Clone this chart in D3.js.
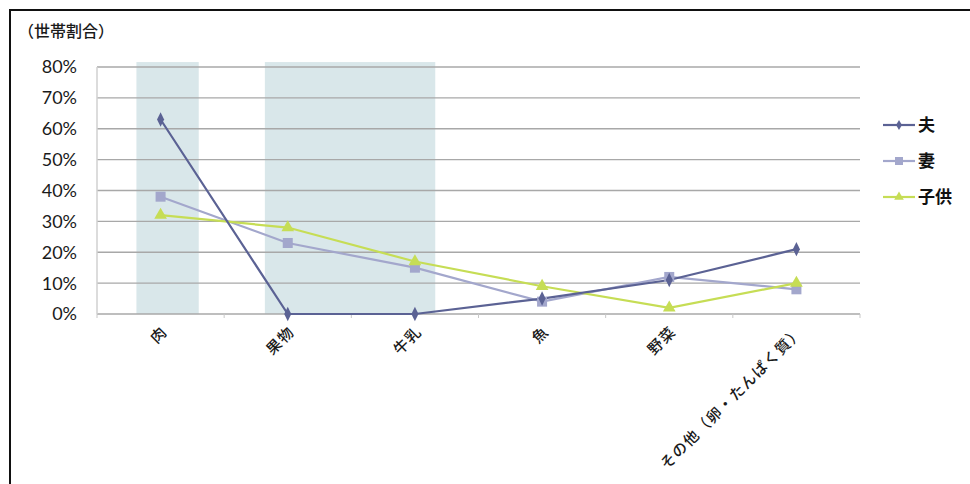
<!DOCTYPE html>
<html><head><meta charset="utf-8">
<script src="https://cdn.jsdelivr.net/npm/d3@7"></script>
<style>
html,body{margin:0;padding:0;background:#fff;}
svg{display:block;}
</style>
</head><body>
<svg id="chart" width="970" height="484"></svg>
<script>
const categories = ["肉","果物","牛乳","魚","野菜","その他（卵・たんぱく質）"];
const seriesNames = ["夫","妻","子供"];
const husband = [0.63, 0.00, 0.00, 0.05, 0.11, 0.21];
const wife    = [0.38, 0.23, 0.15, 0.04, 0.12, 0.08];
const child   = [0.32, 0.28, 0.17, 0.09, 0.02, 0.10];
const yTicks  = [0, 0.1, 0.2, 0.3, 0.4, 0.5, 0.6, 0.7, 0.8];
// highlighted ranges, in category-index units
const highlights = [[-0.19, 0.30], [0.82, 2.16]];
const highlightTop = 0.816;

const colors = {"夫":"#5b6294","妻":"#a3a7cc","子供":"#c6dd55"};
const seriesData = [husband, wife, child];

const svg = d3.select("#chart");
const fontLatin = "Lato, 'Open Sans', 'Noto Sans CJK JP', sans-serif";
const fontCJK = "'Noto Sans CJK JP', sans-serif";

// frame
svg.append("rect").attr("x",10).attr("y",10).attr("width",980).attr("height",500)
  .attr("fill","none").attr("stroke","#111").attr("stroke-width",2);

const x = d3.scaleBand().domain(categories).range([97, 860]);
const y = d3.scaleLinear().domain([0, 0.8]).range([314, 67]);
const cx = c => x(c) + x.bandwidth()/2;
const xi = d3.scaleLinear().domain([0, categories.length-1]).range([cx(categories[0]), cx(categories[categories.length-1])]);

// highlight bands
svg.append("g").selectAll("rect").data(highlights).join("rect")
  .attr("x", d => xi(d[0])).attr("width", d => xi(d[1]) - xi(d[0]))
  .attr("y", y(highlightTop)).attr("height", y(0) - y(highlightTop))
  .attr("fill", "#d9e7ea");

// gridlines
svg.append("g").selectAll("line").data(yTicks).join("line")
  .attr("x1", 97).attr("x2", 860)
  .attr("y1", d => y(d)).attr("y2", d => y(d))
  .attr("stroke", "#a8a8a8").attr("stroke-width", 1.3);

// y axis line (faint)
svg.append("line").attr("x1",97).attr("x2",97).attr("y1",y(0.8)).attr("y2",y(0))
  .attr("stroke","#d0d0d0").attr("stroke-width",1.5);

// y axis labels
svg.append("g").selectAll("text").data(yTicks).join("text")
  .attr("x", 77).attr("y", d => y(d)).attr("dy","0.36em")
  .attr("text-anchor","end")
  .attr("font-family", fontLatin).attr("font-size", 18).attr("fill","#1a1a1a")
  .text(d => d3.format(".0%")(d));

// x axis ticks at category boundaries
svg.append("g").selectAll("line").data(d3.range(categories.length + 1)).join("line")
  .attr("x1", i => x.range()[0] + i*x.step()).attr("x2", i => x.range()[0] + i*x.step())
  .attr("y1", y(0)).attr("y2", y(0)+4)
  .attr("stroke","#c8c8c8").attr("stroke-width",1);

// category labels rotated
svg.append("g").selectAll("text").data(categories).join("text")
  .attr("transform", d => `translate(${cx(d)+4},${y(0)+15}) rotate(-45)`)
  .attr("text-anchor","end").attr("dy","0.35em")
  .attr("font-family", fontCJK).attr("font-size", 15).attr("font-weight", 500)
  .attr("letter-spacing", 1.2).attr("fill","#1a1a1a")
  .text(d => d);

// title
svg.append("text").attr("x", 18).attr("y", 31).attr("dy","0.35em")
  .attr("font-family", fontCJK).attr("font-size", 16).attr("font-weight", 500).attr("fill","#1a1a1a")
  .text("（世帯割合）");

// lines
const line = d3.line().x((d,i) => cx(categories[i])).y(d => y(d));
const order = [1, 2, 0];
order.forEach(k => {
  const name = seriesNames[k];
  const vals = seriesData[k];
  svg.append("path").datum(vals).attr("d", line)
    .attr("fill","none").attr("stroke", colors[name]).attr("stroke-width", 2.2);
});
order.forEach(k => {
  const name = seriesNames[k];
  const vals = seriesData[k];
  const g = svg.append("g");
  if (name === "夫") {
    g.selectAll("path").data(vals).join("path")
      .attr("d", d3.symbol(d3.symbolDiamond, 60)())
      .attr("transform", (d,i) => `translate(${cx(categories[i])},${y(d)}) scale(0.85,1)`)
      .attr("fill", colors[name]);
  } else if (name === "妻") {
    g.selectAll("rect").data(vals).join("rect")
      .attr("x", (d,i) => cx(categories[i]) - 5).attr("y", d => y(d) - 5)
      .attr("width", 10).attr("height", 10).attr("fill", colors[name]);
  } else {
    g.selectAll("path").data(vals).join("path")
      .attr("d", d3.symbol(d3.symbolTriangle, 70)())
      .attr("transform", (d,i) => `translate(${cx(categories[i])},${y(d)})`)
      .attr("fill", colors[name]);
  }
});

// legend
const leg = svg.append("g").selectAll("g").data(seriesNames).join("g")
  .attr("transform", (d,i) => `translate(883,${125 + i*36})`);
leg.append("line").attr("x1",0).attr("x2",32).attr("stroke", d => colors[d]).attr("stroke-width",2.2);
leg.each(function(d){
  const g = d3.select(this);
  if (d === "夫") g.append("path").attr("d", d3.symbol(d3.symbolDiamond, 30)()).attr("transform","translate(16,0)").attr("fill",colors[d]);
  else if (d === "妻") g.append("rect").attr("x",12).attr("y",-4).attr("width",8).attr("height",8).attr("fill",colors[d]);
  else g.append("path").attr("d", d3.symbol(d3.symbolTriangle, 40)()).attr("transform","translate(16,0)").attr("fill",colors[d]);
});
leg.append("text").attr("x", 35).attr("dy","0.36em")
  .attr("font-family", fontCJK).attr("font-size", 17).attr("font-weight", 700).attr("fill","#111")
  .text(d => d);
</script>
</body></html>
